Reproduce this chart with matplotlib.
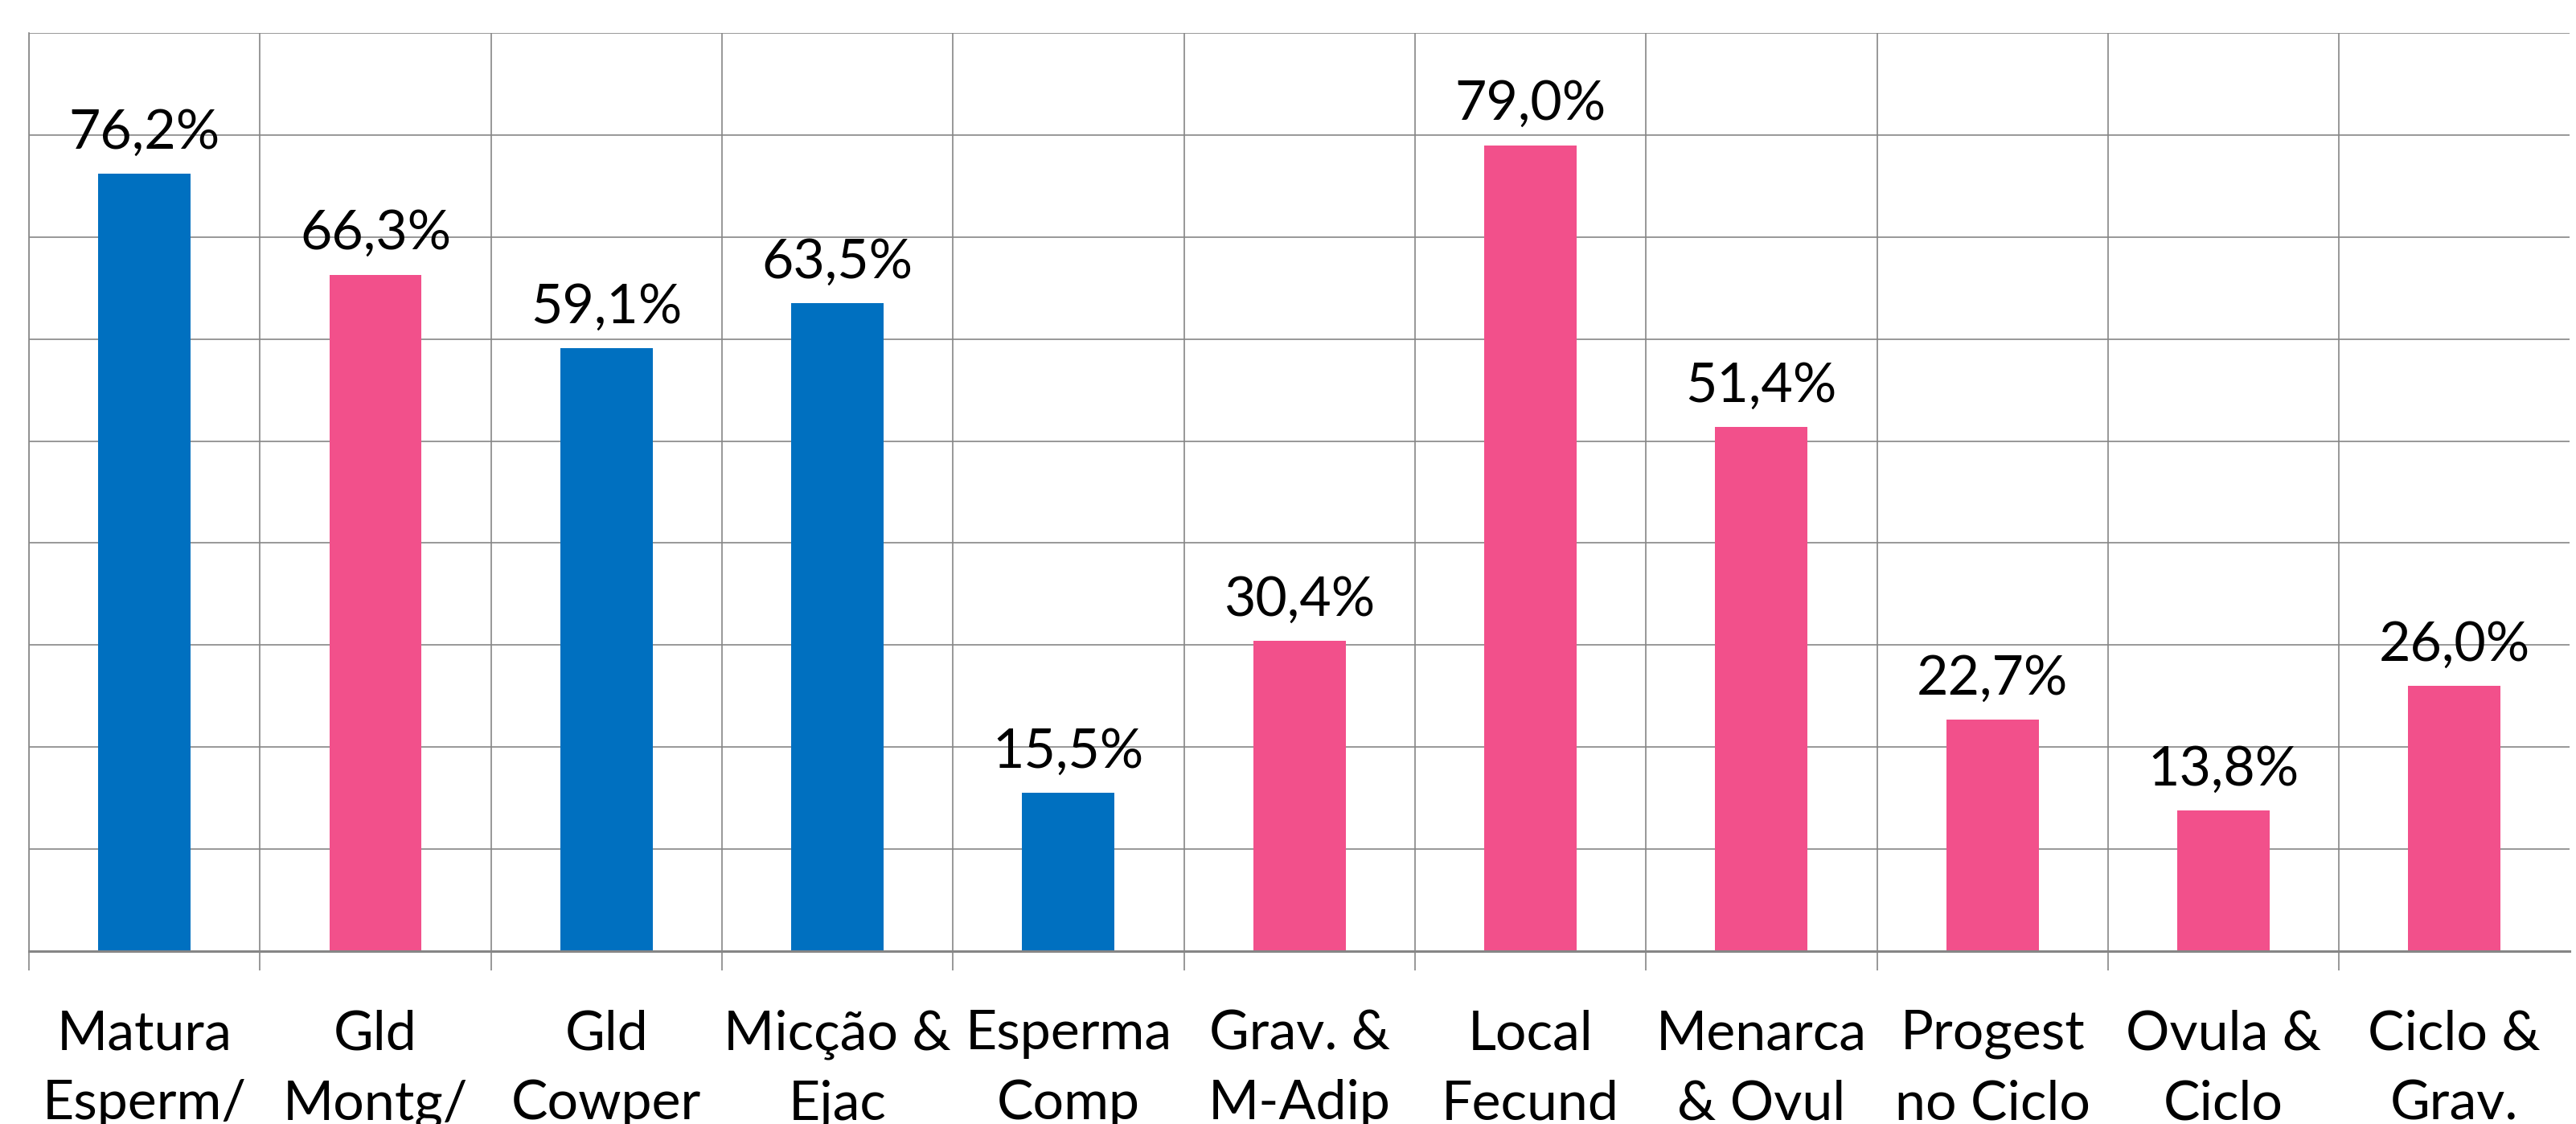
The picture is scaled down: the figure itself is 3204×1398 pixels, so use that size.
import numpy as np
import matplotlib
matplotlib.use("Agg")
import matplotlib.pyplot as plt

# data
categories = ["Matura\nEsperm/", "Gld\nMontg/", "Gld\nCowper", "Micção &\nEjac",
              "Esperma\nComp", "Grav. &\nM-Adip", "Local\nFecund", "Menarca\n& Ovul",
              "Progest\nno Ciclo", "Ovula &\nCiclo", "Ciclo &\nGrav."]
values = [76.2, 66.3, 59.1, 63.5, 15.5, 30.4, 79.0, 51.4, 22.7, 13.8, 26.0]
groups = ["m", "f", "m", "m", "m", "f", "f", "f", "f", "f", "f"]

BLUE = "#0070C0"
PINK = "#F2508B"
GRID = "#868686"
colors = [BLUE if g == "m" else PINK for g in groups]

plt.rcParams["font.family"] = ["Lato", "DejaVu Sans"]

fig = plt.figure(figsize=(32.04, 13.98), dpi=100)
ax = fig.add_axes([0.01124, 0.1538, 0.9864, 0.8169])

x = np.arange(len(categories))
bars = ax.bar(x, values, width=0.40, color=colors, zorder=3)

for xi, v in zip(x, values):
    ax.annotate(f"{v:.1f}%".replace(".", ","), (xi, v), xytext=(0, 14),
                textcoords="offset points", ha="center", va="bottom",
                fontsize=49, color="black")

ax.set_xlim(-0.5, len(categories) - 0.5)
ax.set_ylim(0, 90)

# horizontal grid
ax.set_yticks(np.arange(0, 91, 10))
ax.set_yticklabels([])
ax.tick_params(axis="y", length=0)
ax.grid(axis="y", color=GRID, linewidth=1.2, zorder=0)

# category separators as minor ticks/grid
ax.set_xticks(x)
ax.set_xticklabels(categories, fontsize=49, linespacing=1.5)
ax.set_xticks(np.arange(-0.5, len(categories) - 1, 1), minor=True)
ax.grid(axis="x", which="minor", color=GRID, linewidth=1.2, zorder=0)
ax.tick_params(axis="x", which="major", length=0, pad=52)
ax.tick_params(axis="x", which="minor", length=17, width=1.2, color=GRID)

for s in ["top", "right"]:
    ax.spines[s].set_visible(False)
ax.spines["left"].set_color(GRID)
ax.spines["left"].set_linewidth(1.2)
ax.spines["bottom"].set_color(GRID)
ax.spines["bottom"].set_linewidth(2.2)
ax.spines["bottom"].set_zorder(4)

fig.savefig("out.png", dpi=100)
